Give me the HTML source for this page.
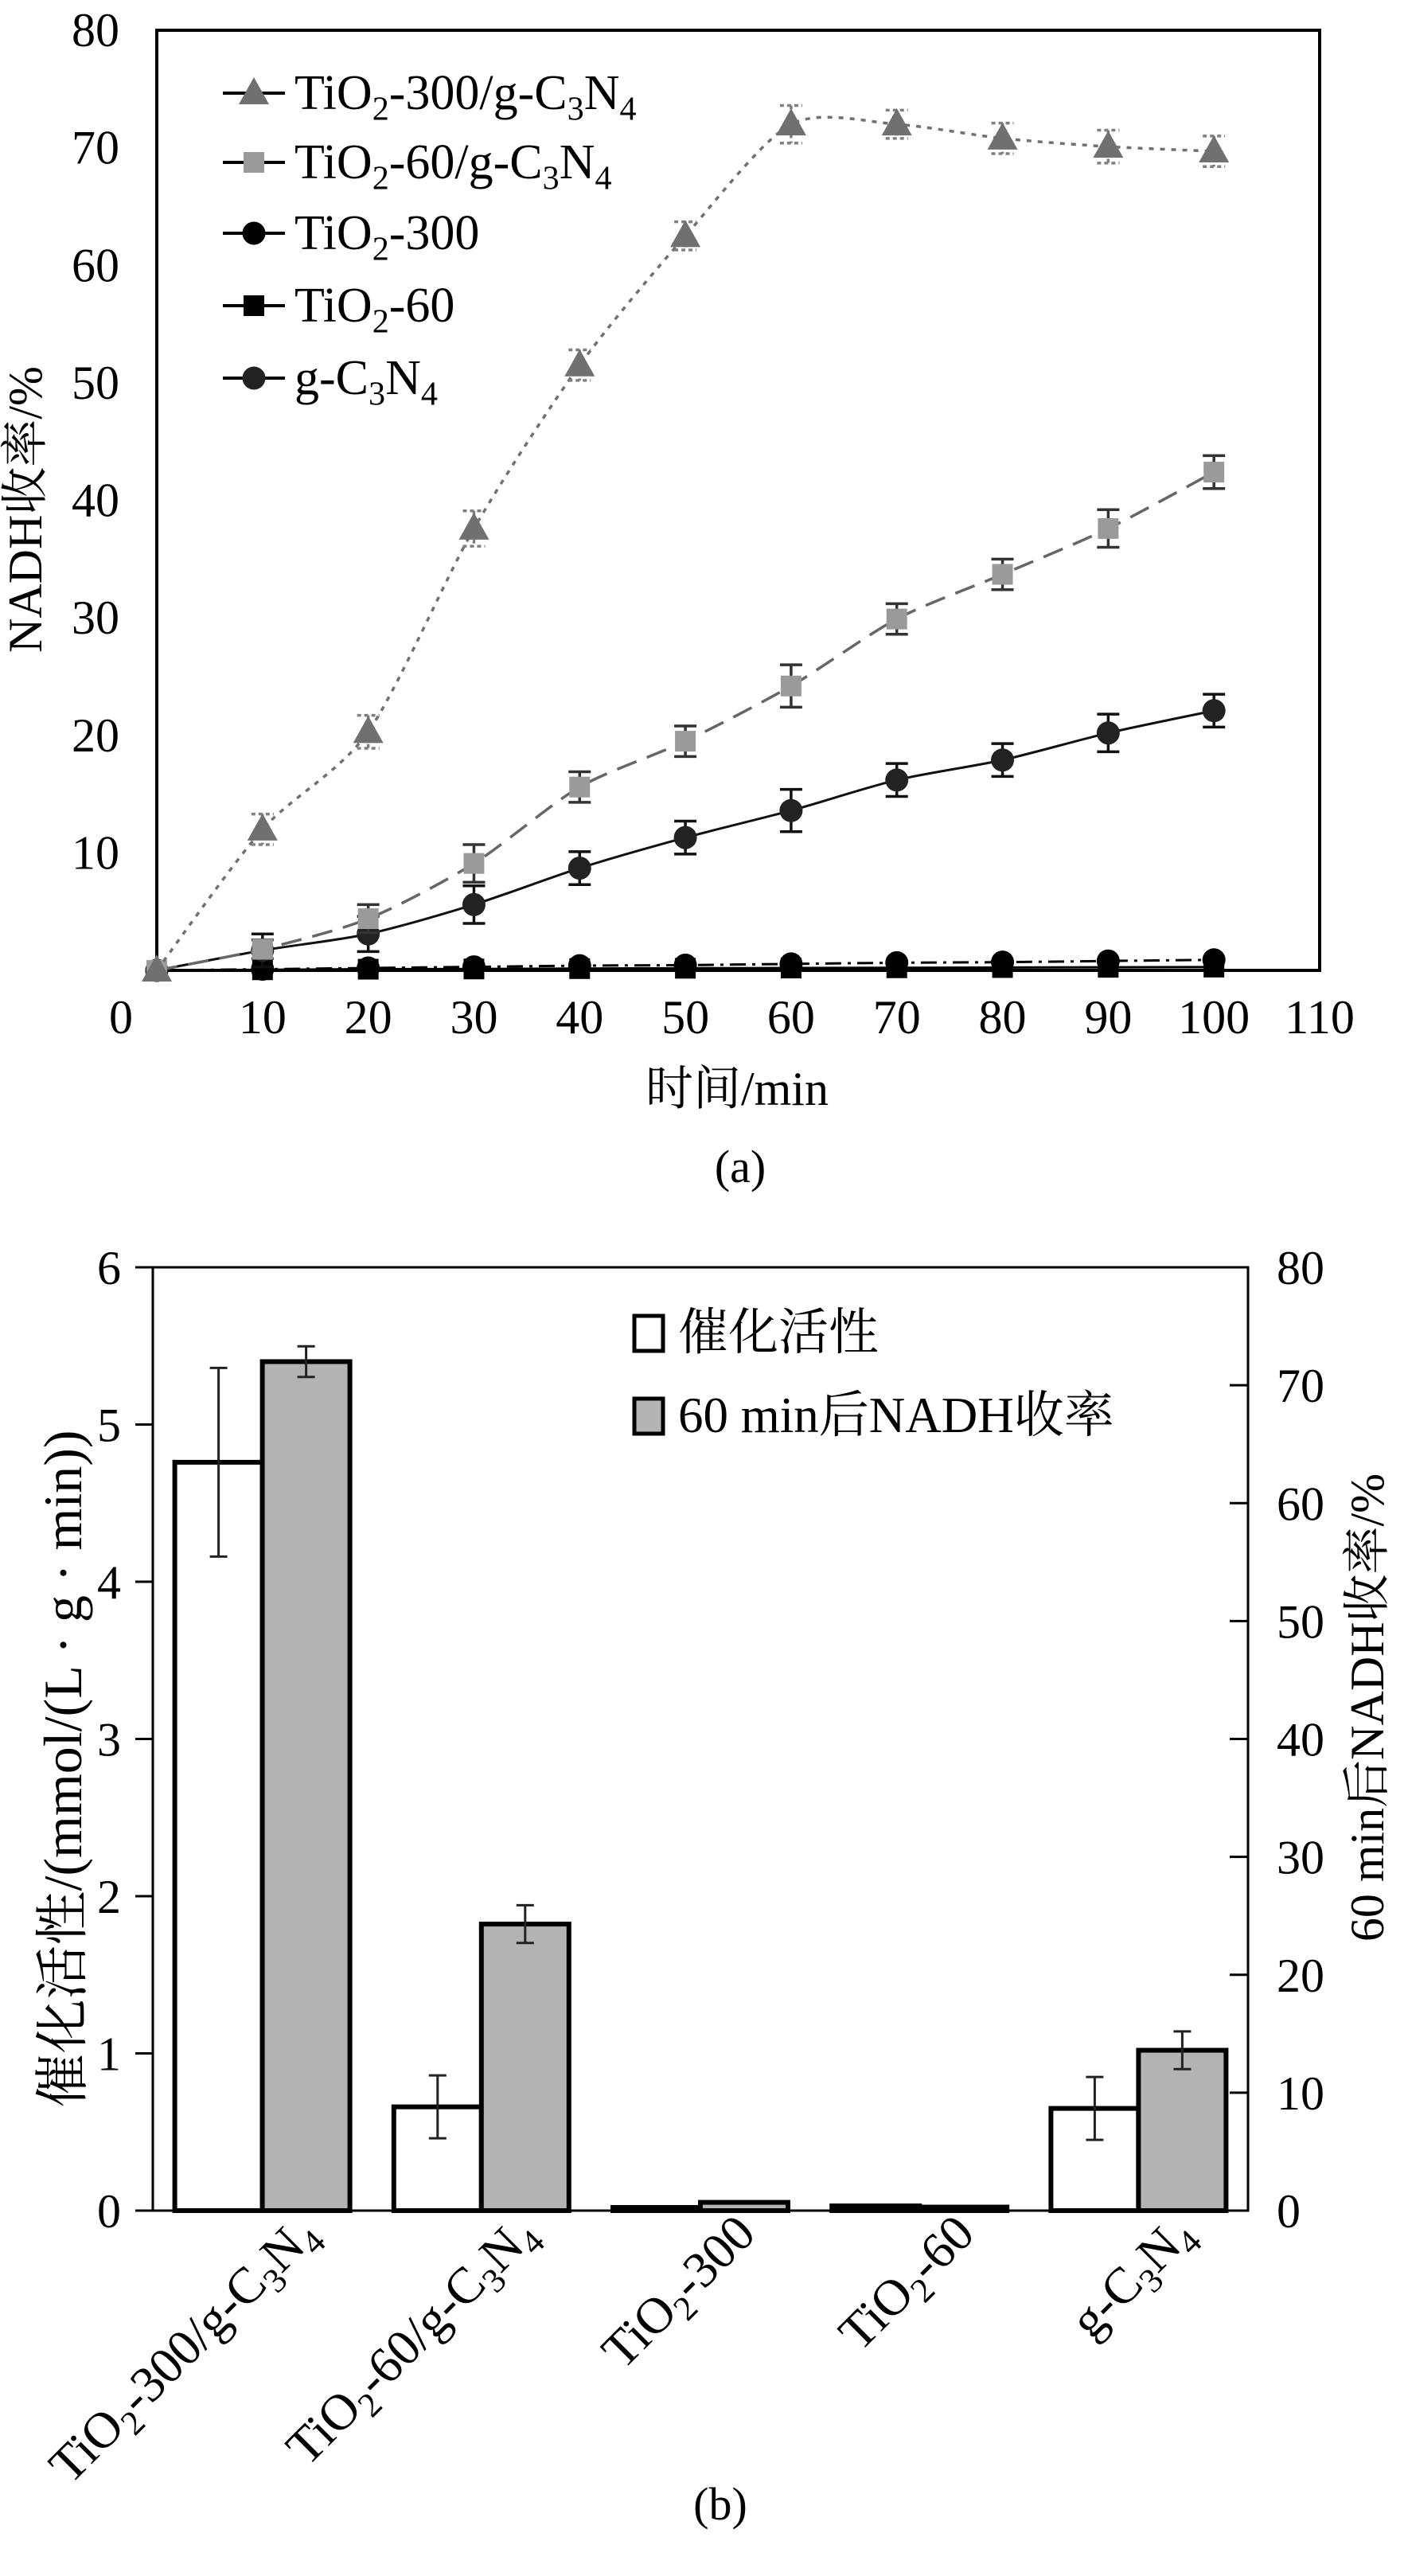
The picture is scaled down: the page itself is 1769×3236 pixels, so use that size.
<!DOCTYPE html>
<html><head><meta charset="utf-8">
<style>
html,body{margin:0;padding:0;background:#fff;}
svg{display:block;}
text{font-family:"Liberation Serif","Noto Serif CJK SC","Noto Sans CJK SC",serif;fill:#000;}
</style></head>
<body>
<svg id="fig" width="1769" height="3236" viewBox="0 0 1769 3236" xmlns="http://www.w3.org/2000/svg">
<g id="ga"></g>
<g id="gb"></g>
</svg>
<script>
// ---------- Chart (a) data ----------
const timeMin = [0,10,20,30,40,50,60,70,80,90,100];
const yieldTiO2300CN = [0,12,20.3,37.6,51.5,62.5,72,72,70.8,70.1,69.7];
const errTiO2300CN = [0,1.3,1.4,1.5,1.3,1.2,1.6,1.2,1.3,1.4,1.3];
const yieldTiO260CN = [0,1.8,4.4,9.1,15.6,19.5,24.2,29.9,33.7,37.6,42.4];
const errTiO260CN = [0,0.8,1.2,1.6,1.3,1.3,1.8,1.3,1.3,1.6,1.4];
const yieldTiO2300 = [0,0.1,0.2,0.3,0.4,0.45,0.55,0.65,0.7,0.8,0.9];
const yieldTiO260 = [0,0.05,0.1,0.12,0.15,0.18,0.2,0.22,0.24,0.26,0.28];
const yieldCN = [0,1.7,3.1,5.6,8.7,11.3,13.6,16.2,17.9,20.2,22.1];
const errCN = [0,1.4,1.5,1.6,1.4,1.4,1.8,1.4,1.4,1.6,1.4];
const xTicksA = [0,10,20,30,40,50,60,70,80,90,100,110];
const yTicksA = [10,20,30,40,50,60,70,80];

// ---------- Chart (b) data ----------
const catsB = ["TiO2-300/g-C3N4","TiO2-60/g-C3N4","TiO2-300","TiO2-60","g-C3N4"];
const activity = [4.76,0.66,0.02,0.03,0.65];
const activityErr = [0.6,0.2,0,0,0.2];
const yield60 = [72,24.3,0.7,0.3,13.6];
const yield60Err = [1.3,1.6,0,0,1.6];
const yTicksBL = [0,1,2,3,4,5,6];
const yTicksBR = [0,10,20,30,40,50,60,70,80];

const NS="http://www.w3.org/2000/svg";
function mk(parent,tag,attrs,txt){const e=document.createElementNS(NS,tag);for(const k in attrs)e.setAttribute(k,attrs[k]);if(txt!==undefined)e.textContent=txt;parent.appendChild(e);return e;}
function chemText(parent,x,y,str,size,extra){
  const t=mk(parent,'text',Object.assign({x:x,y:y,'font-size':size},extra||{}));
  let buf='';
  for(let i=0;i<str.length;i++){
    const c=str[i];
    if(/\d/.test(c)&&i>0&&/[A-Za-z]/.test(str[i-1])){
      if(buf){mk(t,'tspan',{},buf);buf='';}
      mk(t,'tspan',{'font-size':size*0.68,dy:size*0.22},c);
      let j=i+1,b2='';
      while(j<str.length&&!(/\d/.test(str[j])&&/[A-Za-z]/.test(str[j-1]))){b2+=str[j];j++;}
      if(b2.length) mk(t,'tspan',{dy:-size*0.22},b2);
      i=j-1;
    } else buf+=c;
  }
  if(buf)mk(t,'tspan',{},buf);
  return t;
}
function smoothPath(pts){
  let d='M'+pts[0][0]+','+pts[0][1];
  for(let i=0;i<pts.length-1;i++){
    const p0=pts[i-1]||pts[i],p1=pts[i],p2=pts[i+1],p3=pts[i+2]||p2;
    const t=0.4/3;
    const c1=[p1[0]+(p2[0]-p0[0])*t,p1[1]+(p2[1]-p0[1])*t];
    const c2=[p2[0]-(p3[0]-p1[0])*t,p2[1]-(p3[1]-p1[1])*t];
    d+=' C'+c1[0]+','+c1[1]+' '+c2[0]+','+c2[1]+' '+p2[0]+','+p2[1];
  }
  return d;
}

// ================= Chart A =================
(function(){
const g=document.getElementById('ga');
const L=197,R=1658,T=38,B=1219;
const xA=v=>L+(v-0)/(110)*(R-L);
const yA=v=>B-(v/80)*(B-T);
mk(g,'rect',{x:L,y:T,width:R-L,height:B-T,fill:'none',stroke:'#000','stroke-width':4,});
yTicksA.forEach(v=>{
  const t=mk(g,'text',{x:150,y:yA(v)+20,'font-size':60,'text-anchor':'end'},String(v));
  
  
});
xTicksA.forEach(v=>{
  const x=v===0?152:xA(v);
  const t=mk(g,'text',{x:x,y:1298,'font-size':60,'text-anchor':'middle'},String(v));
  
  
});
const yt=mk(g,'text',{x:0,y:0,'font-size':60,'text-anchor':'middle',transform:'translate(52,640) rotate(-90)'},'NADH收率/%');

const xt=mk(g,'text',{x:926,y:1388,'font-size':60,'text-anchor':'middle'},'时间/min');

const ca=mk(g,'text',{x:930,y:1485,'font-size':58,'text-anchor':'middle'},'(a)');


const series=[
 {name:'TiO2-300/g-C3N4',data:yieldTiO2300CN,err:errTiO2300CN,color:'#707070',dash:'6,8',mk:'tri',ec:'#808080',edash:'5,4',lw:3.5},
 {name:'TiO2-60/g-C3N4',data:yieldTiO260CN,err:errTiO260CN,color:'#666',dash:'26,14',mk:'sq',mc:'#9a9a9a',ec:'#333',lw:3.5},
 {name:'TiO2-300',data:yieldTiO2300,err:null,color:'#000',dash:'20,8,4,8',mk:'circ',mc:'#000',lw:3},
 {name:'TiO2-60',data:yieldTiO260,err:null,color:'#000',dash:'',mk:'sq',mc:'#000',lw:3},
 {name:'g-C3N4',data:yieldCN,err:errCN,color:'#111',dash:'',mk:'circ',mc:'#222',ec:'#111',lw:3}
];
function marker(parent,type,x,y,col){
  if(type==='tri') return mk(parent,'polygon',{points:`${x},${y-20} ${x-19},${y+14} ${x+19},${y+14}`,fill:col||'#707070'});
  if(type==='sq') return mk(parent,'rect',{x:x-13,y:y-13,width:26,height:26,fill:col});
  return mk(parent,'circle',{cx:x,cy:y,r:14.5,fill:col});
}
[3,2,4,1,0].forEach(si=>{
  const s=series[si];
  const sg=mk(g,'g',{});
  
  
  const pts=timeMin.map((t,i)=>[xA(t),yA(s.data[i])]);
  const ln=mk(sg,'path',{d:smoothPath(pts),fill:'none',stroke:s.color,'stroke-width':s.lw,'stroke-dasharray':s.dash});
  
  timeMin.forEach((t,i)=>{
    const x=xA(t),y=yA(s.data[i]);
    if(s.err&&s.err[i]>0){
      const y1=yA(s.data[i]+s.err[i]),y2=yA(s.data[i]-s.err[i]);
      const e=mk(sg,'path',{d:`M${x},${y1}V${y2}M${x-14},${y1}H${x+14}M${x-14},${y2}H${x+14}`,stroke:s.ec,'stroke-width':3.5,fill:'none','stroke-dasharray':s.edash||''});
      
    }
    const m=marker(sg,s.mk,x,y,s.mc);
    
  });
});
const lg=mk(g,'g',{});

const rowsY=[117,204,293,384,475];
const legMk=[['tri','#707070'],['sq','#999'],['circ','#000'],['sq','#000'],['circ','#222']];
series.forEach((s,i)=>{
  const eg=mk(lg,'g',{});
  
  mk(eg,'line',{x1:280,x2:358,y1:rowsY[i],y2:rowsY[i],stroke:'#000','stroke-width':4});
  marker(eg,legMk[i][0],319,rowsY[i],legMk[i][1]);
  chemText(eg,370,rowsY[i]+20,s.name,62);
});
})();

// ================= Chart B =================
(function(){
const g=document.getElementById('gb');
const L=192,R=1568,T=1592,B=2777;
const yL=v=>B-(v/6)*(B-T);
const yR=v=>B-(v/80)*(B-T);
const step=(R-L)/catsB.length;
const cx=i=>L+step*(i+0.5);
const bw=110;
mk(g,'rect',{x:L,y:T,width:R-L,height:B-T,fill:'none',stroke:'#000','stroke-width':3,});
yTicksBL.forEach(v=>{
  mk(g,'line',{x1:L-22,x2:L,y1:yL(v),y2:yL(v),stroke:'#000','stroke-width':3});
  const t=mk(g,'text',{x:152,y:yL(v)+21,'font-size':60,'text-anchor':'end'},String(v));
  
});
yTicksBR.forEach(v=>{
  mk(g,'line',{x1:R-23,x2:R,y1:yR(v),y2:yR(v),stroke:'#000','stroke-width':3});
  const t=mk(g,'text',{x:1604,y:yR(v)+21,'font-size':60,'text-anchor':'start'},String(v));
  
});
catsB.forEach((c,i)=>{
  const x=cx(i);
  const w=mk(g,'rect',{x:x-bw,y:yL(activity[i]),width:bw,height:B-yL(activity[i]),fill:'#fff',stroke:'#000','stroke-width':6});
  
  const gr=mk(g,'rect',{x:x,y:yR(yield60[i]),width:bw,height:B-yR(yield60[i]),fill:'#b3b3b3',stroke:'#000','stroke-width':6});
  
  if(activityErr[i]>0){
    const y1=yL(activity[i]+activityErr[i]),y2=yL(activity[i]-activityErr[i]),ex=x-bw/2;
    const e=mk(g,'path',{d:`M${ex},${y1}V${y2}M${ex-11},${y1}H${ex+11}M${ex-11},${y2}H${ex+11}`,stroke:'#222','stroke-width':3,fill:'none'});
    
  }
  if(yield60Err[i]>0){
    const y1=yR(yield60[i]+yield60Err[i]),y2=yR(yield60[i]-yield60Err[i]),ex=x+bw/2;
    const e=mk(g,'path',{d:`M${ex},${y1}V${y2}M${ex-11},${y1}H${ex+11}M${ex-11},${y2}H${ex+11}`,stroke:'#222','stroke-width':3,fill:'none'});
    
  }
  const lab=chemText(g,0,0,c,64,{'text-anchor':'end',transform:`translate(${x+72},${B+32}) rotate(-45)`});
  
});
const yt=mk(g,'text',{x:0,y:0,'font-size':68,'text-anchor':'middle',transform:'translate(102,2222) rotate(-90)'},'催化活性/(mmol/(L · g · min))');

const yt2=mk(g,'text',{x:0,y:0,'font-size':60,'text-anchor':'middle',transform:'translate(1738,2145) rotate(-90)'},'60 min后NADH收率/%');

const lg=mk(g,'g',{});

mk(lg,'rect',{x:797,y:1653,width:36,height:44,fill:'#fff',stroke:'#000','stroke-width':5});
mk(lg,'text',{x:852,y:1695,'font-size':63},'催化活性');
mk(lg,'rect',{x:797,y:1757,width:36,height:44,fill:'#b3b3b3',stroke:'#000','stroke-width':5});
mk(lg,'text',{x:852,y:1799,'font-size':63},'60 min后NADH收率');
const cb=mk(g,'text',{x:905,y:3165,'font-size':58,'text-anchor':'middle'},'(b)');

})();
</script>
</body></html>
